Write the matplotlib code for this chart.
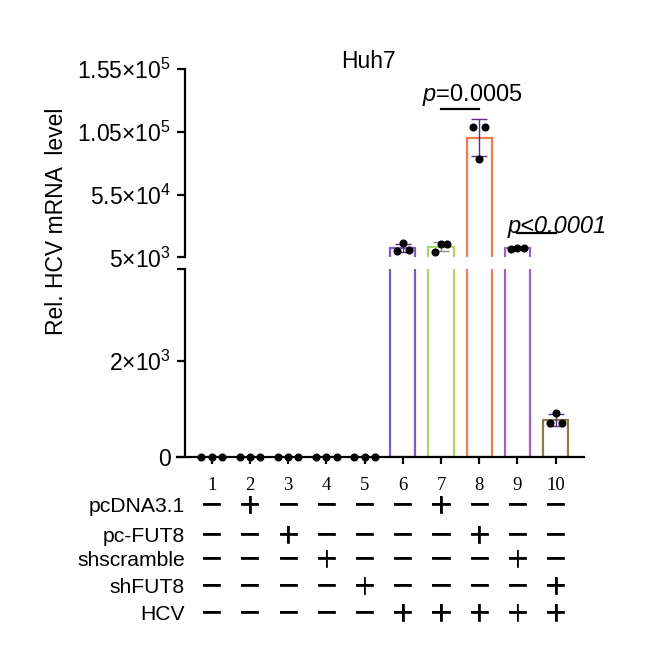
import numpy as np
import matplotlib
matplotlib.use("Agg")
import matplotlib.pyplot as plt
import matplotlib.transforms as mtransforms
import matplotlib.patheffects as pe

plt.rcParams['font.family'] = ['Liberation Sans', 'DejaVu Sans']
plt.rcParams['mathtext.fontset'] = 'custom'
plt.rcParams['mathtext.rm'] = 'Liberation Sans'
plt.rcParams['mathtext.it'] = 'Liberation Sans:italic'
plt.rcParams['mathtext.bf'] = 'Liberation Sans:bold'

# ---------------- data ----------------
groups = [1, 2, 3, 4, 5, 6, 7, 8, 9, 10]
replicates = [
    [0, 0, 0],
    [0, 0, 0],
    [0, 0, 0],
    [0, 0, 0],
    [0, 0, 0],
    [10300, 16200, 11000],
    [9500, 15400, 15400],
    [108600, 83300, 108600],
    [12000, 12800, 12300],
    [704, 932, 704],
]
bar_colors = ['#7b5eb8', '#7b5eb8', '#7b5eb8', '#7b5eb8', '#7b5eb8',
              '#7b5eb8', '#a8d86a', '#f07c50', '#a45fc4', '#8c7b44']
err_colors = ['#5a2d82'] * 6 + ['#8a8f8a', '#5a2d82', '#5a2d82', '#5a2d82']
dot_offsets = [[-0.27, 0.0, 0.27]] * 5 + [[-0.16, 0.0, 0.16]] * 5

lower_ticks = [0, 2000]
lower_labels = ['0', '2×10$^{3}$']
upper_ticks = [5000, 55000, 105000, 155000]
upper_labels = ['5×10$^{3}$', '5.5×10$^{4}$', '1.05×10$^{5}$', '1.55×10$^{5}$']

row_names = ['pcDNA3.1', 'pc-FUT8', 'shscramble', 'shFUT8', 'HCV']
row_signs = [
    '-+----+---',
    '--+----+--',
    '---+----+-',
    '----+----+',
    '-----+++++',
]
comparisons = [  # (x1, x2, line_y, label)
    (7, 8, 122900, '$p$=0.0005'),
    (9, 10, 24600, 'p<0.0001'),
]

means = np.array([np.mean(r) for r in replicates])
sds = np.array([np.std(r, ddof=1) for r in replicates])

# ---------------- layout ----------------
W, H = 657, 649
fig = plt.figure(figsize=(W / 100, H / 100), dpi=100)


def rect(l, t, r, b):
    return [l / W, 1 - b / H, (r - l) / W, (b - t) / H]


ax_lo = fig.add_axes(rect(177, 269, 584, 457.3))
ax_hi = fig.add_axes(rect(177, 69, 584, 257.3))
xlim = (0.092, 10.74)
spine_x = 0.30

for ax in (ax_lo, ax_hi):
    ax.set_xlim(*xlim)
    for s in ('top', 'right'):
        ax.spines[s].set_visible(False)
    ax.spines['left'].set_position(('data', spine_x))
    ax.spines['left'].set_linewidth(1.6)
    ax.spines['bottom'].set_linewidth(1.6)
    ax.tick_params(axis='y', direction='out', length=6, width=1.6,
                   labelsize=16.5, pad=4)
    ax.patch.set_alpha(0)

ax_lo.set_ylim(0, 3920)
ax_hi.set_ylim(5000, 155000)
ax_hi.spines['bottom'].set_visible(False)
ax_hi.set_xticks([])

ax_lo.set_yticks(lower_ticks + [3920])
ax_lo.set_yticklabels(lower_labels + [''])
ax_hi.set_yticks(upper_ticks)
ax_hi.set_yticklabels(upper_labels)

ax_lo.set_xticks(groups)
ax_lo.set_xticklabels([str(g) for g in groups], family='Liberation Serif',
                      fontsize=13.5)
ax_lo.tick_params(axis='x', direction='out', length=5, width=1.6, pad=9)

# bars, errors, dots
for ax in (ax_lo, ax_hi):
    ax.bar(groups, means, width=0.66, facecolor='white',
           edgecolor=bar_colors, linewidth=1.6, zorder=2)
    for g, m, s, ec in zip(groups, means, sds, err_colors):
        if s > 0:
            ax.errorbar([g], [m], yerr=[s], fmt='none', ecolor=ec,
                        elinewidth=1.0, capsize=6, capthick=1.0, zorder=3)
    for g, reps, offs in zip(groups, replicates, dot_offsets):
        on_floor = (ax is ax_lo) and max(reps) == 0
        ax.plot(np.array(offs) + g, reps, 'o', color='black', ms=4.8,
                zorder=4, clip_on=not on_floor)

# comparisons
for x1, x2, ly, lab in comparisons:
    ax_hi.plot([x1, x2], [ly, ly], color='black', lw=1.6, clip_on=False,
               zorder=5)

ax_hi.text(7.81, 129750, comparisons[0][3], ha='center', va='baseline',
           fontsize=17)
ax_hi.text(10.05, 24600, comparisons[1][3], ha='center', va='baseline',
           fontsize=17, style='italic')

# texts
fig.text(368 / W, 1 - 68 / H, 'Huh7', ha='center', va='baseline',
         fontsize=16.5)
fig.text(57 / W, 1 - 221 / H, 'Rel. HCV mRNA  level', rotation=90,
         ha='center', va='center', fontsize=16.5)

# condition table
row_y = [506.5, 536.5, 560.5, 587.5, 614.5]
trans = mtransforms.blended_transform_factory(ax_lo.transData, fig.transFigure)
thick = [pe.withStroke(linewidth=0.5, foreground='black')]
for name, signs, y in zip(row_names, row_signs, row_y):
    fig.text(185 / W, 1 - y / H, name, ha='right', va='center', fontsize=15.2)
    for g, ch in zip(groups, signs):
        sym = '\uff0b' if ch == '+' else '\uff0d'
        ax_lo.text(g, 1 - y / H, sym, transform=trans, ha='center',
                   va='center', fontsize=17, family='Noto Sans CJK SC',
                   path_effects=thick)

fig.savefig('out.png', dpi=100)
